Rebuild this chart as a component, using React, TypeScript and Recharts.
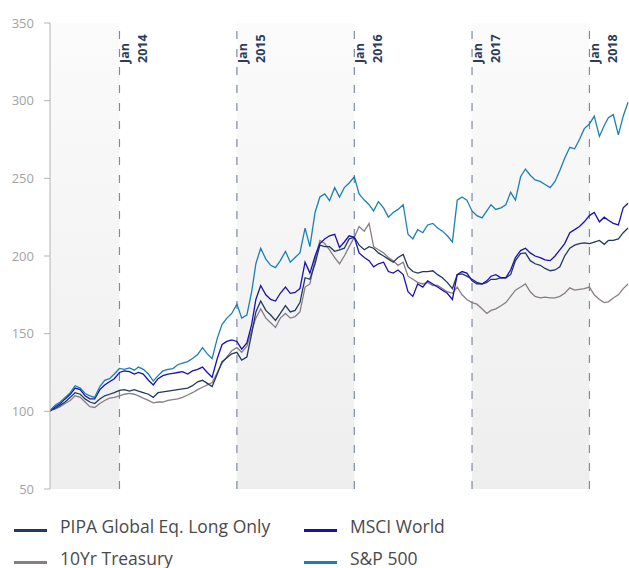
import React from 'react';
import { LineChart, Line, XAxis, YAxis, ReferenceArea, ReferenceLine } from 'recharts';

// Semi-monthly observation dates (1st and 16th), from late May 2013 to May 2018
const dates: number[] = [Date.UTC(2013, 4, 30)];
for (let y = 2013; y <= 2018; y++) {
  for (let m = 0; m < 12; m++) {
    if (y === 2013 && m < 5) continue;
    if (y === 2018 && m > 3) break;
    dates.push(Date.UTC(y, m, 1));
    dates.push(Date.UTC(y, m, 16));
  }
}
dates.push(Date.UTC(2018, 4, 1));

const yearTicks = ['2014', '2015', '2016', '2017', '2018'];
const yTicks = [50, 100, 150, 200, 250, 300, 350];

const sp500 = [
  100.5, 101, 104, 106, 109, 112, 116.5, 115, 111.5, 110, 109, 116, 120, 121, 124,
  127.6, 127, 128, 126.5, 128.5, 127, 124, 119.5, 123, 126, 127, 127.5, 130, 131, 132, 134, 136.5, 141, 137, 134, 147, 156, 160, 163,
  169, 160, 162, 177, 195, 205, 198, 194, 192.5, 197, 203, 196, 199, 202, 218, 206, 228, 238, 240, 235.6, 244, 238, 244, 247,
  251, 240, 236, 233, 229, 235, 231, 225, 228, 230, 233, 214, 211, 217, 215, 220, 221, 218, 216, 213, 209, 236, 238, 236,
  229, 226, 224.5, 229, 233, 230, 231, 233, 241, 236, 251, 256, 252, 249, 248, 246, 244, 248, 255, 263, 270, 269, 275, 282,
  285, 290, 277, 284, 289, 291, 278, 290, 299,
];

const msci = [
  100, 100.5, 103, 105, 108, 111, 115, 114, 110, 108, 108, 114, 117, 119, 121,
  125, 126, 125.5, 124, 125, 124, 120, 117, 121, 123, 124, 124.5, 125, 125.5, 124, 126, 127, 128.5, 125, 122, 134, 143, 145, 146,
  145, 140, 144, 156, 172, 181, 175, 172, 171, 176, 180, 176, 176.5, 179, 196, 189, 200, 208, 211, 213, 214, 205.5, 209, 213,
  212, 202, 199, 197, 193, 195, 196, 190, 189, 191, 188, 177, 174, 182, 180, 184, 182, 180, 178, 176, 172, 188, 190, 189,
  184, 182, 182, 184, 187, 188, 186, 186, 191, 199, 203.5, 205, 202, 200, 199, 197.5, 197, 200, 204, 208, 215, 217, 219, 222,
  226, 228, 222, 225, 223, 221, 220, 231, 234,
];

const pipa = [
  100, 101, 102, 104, 106, 109, 112, 111, 108, 106, 105, 108, 110, 111, 112,
  113.5, 114, 113, 114, 113, 112, 111, 109, 112, 112.5, 113, 113.5, 114, 114.5, 115, 116.5, 119, 120, 118, 116, 124, 132, 134.5, 137,
  138, 133, 135, 150, 164, 171, 165, 162, 158.5, 163, 168, 164, 165, 170, 186, 185, 195, 207, 206, 206, 203, 204, 205, 211,
  212, 207, 204, 206, 205, 202, 200, 198, 196, 199, 201, 193, 190, 189, 190, 190, 190.5, 188, 186, 183, 179, 188, 188.5, 187,
  185, 183, 182, 183, 185, 185, 186, 186, 188, 197, 201.5, 202, 197, 195, 194, 192, 190.5, 191, 193, 200, 205, 207, 208, 208.5,
  208, 209, 210, 207.5, 210, 210, 211, 215, 218,
];

const treasury = [
  100, 100.5, 101.5, 103, 105, 107, 110, 109, 106, 103, 102.5, 105, 107, 108.5, 109,
  110, 111, 111.5, 111, 110, 108.5, 107, 105.5, 106, 106, 107, 107.5, 108, 109, 110.5, 112, 114, 115.5, 117, 118.5, 125, 131, 135, 139,
  141, 138, 142, 152, 160, 166, 160, 157, 154, 160, 163, 160, 161, 164, 180, 182, 198, 210, 208, 204, 199, 195, 200, 206,
  212, 219, 216, 221, 206, 204, 202, 199, 197, 194, 196, 187, 185, 183, 182, 183, 181, 181, 179, 177, 176, 180, 175, 172,
  170, 169, 166, 163, 165, 166, 168, 170, 174, 178, 180, 182, 177, 174, 173, 173.5, 173, 173, 174, 176, 179.5, 178, 178.5, 179,
  180, 175, 172, 170, 170.5, 173, 175, 179, 182,
];

const seriesNames = ['PIPA Global Eq. Long Only', 'MSCI World', '10Yr Treasury', 'S&P 500'];
const seriesKeys = ['pipa', 'msci', 'treasury', 'sp500'];
const seriesColors = ['#1f3a5c', '#1a0fb4', '#877d84', '#1a7fb3'];

const data = dates.map((d, i) => ({
  date: d,
  pipa: pipa[i],
  msci: msci[i],
  treasury: treasury[i],
  sp500: sp500[i],
}));

const X_START = Date.UTC(2013, 4, 30);
const X_END = Date.UTC(2018, 4, 4);

const shadedBands: [number, number][] = [
  [X_START, Date.UTC(2014, 0, 1)],
  [Date.UTC(2015, 0, 1), Date.UTC(2016, 0, 1)],
  [Date.UTC(2017, 0, 1), Date.UTC(2018, 0, 1)],
];

const YearLabel = ({ viewBox, year }: any) => {
  const x = viewBox?.x ?? 0;
  const y = (viewBox?.y ?? 23) + 40;
  const common = {
    fontFamily: '"Open Sans", sans-serif',
    fontWeight: 700,
    fontSize: 12.5,
    fill: '#2a3c5c',
    textAnchor: 'start' as const,
  };
  return (
    <g>
      <text x={x + 10} y={y} transform={`rotate(-90 ${x + 10} ${y})`} {...common}>Jan</text>
      <text x={x + 28} y={y} transform={`rotate(-90 ${x + 28} ${y})`} {...common}>{year}</text>
    </g>
  );
};

const legendPos = [
  { left: 14, top: 0 },
  { left: 304, top: 0 },
  { left: 14, top: 32 },
  { left: 304, top: 32 },
];

export default function App() {
  const drawOrder = [2, 0, 1, 3];
  return (
    <div style={{ position: 'fixed', left: 0, top: 0, width: 629, height: 568, overflow: 'hidden', background: '#fff' }}>
      <LineChart width={629} height={568} data={data} margin={{ top: 23, right: 0, left: 0, bottom: 79 }}>
        <defs>
          <linearGradient id="bandGrad" x1="0" y1="0" x2="0" y2="1">
            <stop offset="0%" stopColor="#fbfbfb" />
            <stop offset="100%" stopColor="#eeeeee" />
          </linearGradient>
        </defs>
        <XAxis dataKey="date" type="number" scale="time" domain={[X_START, X_END]} hide height={0} allowDataOverflow />
        <YAxis
          domain={[50, 350]}
          ticks={yTicks}
          width={50}
          interval={0}
          axisLine={{ stroke: '#b3b3b3' }}
          tickLine={{ stroke: '#b3b3b3' }}
          tickSize={6}
          tickMargin={10}
          tick={{ fill: '#a3a3a3', fontSize: 13, fontFamily: '"Open Sans", sans-serif' }}
        />
        {shadedBands.map(([a, b], i) => (
          <ReferenceArea key={'band' + i} x1={a} x2={b} y1={50} y2={350} fill="url(#bandGrad)" fillOpacity={1} stroke="none" ifOverflow="hidden" />
        ))}
        {yearTicks.map((yr) => (
          <ReferenceLine
            key={'yl' + yr}
            x={Date.UTC(Number(yr), 0, 1)}
            stroke="#7d8ba3"
            strokeWidth={1.2}
            strokeDasharray="8 10"
            label={(p: any) => <YearLabel viewBox={p.viewBox} year={yr} />}
          />
        ))}
        {drawOrder.map((i) => (
          <Line
            key={seriesKeys[i]}
            type="linear"
            dataKey={seriesKeys[i]}
            name={seriesNames[i]}
            stroke={seriesColors[i]}
            strokeWidth={1.3}
            dot={false}
            isAnimationActive={false}
          />
        ))}
      </LineChart>
      <div style={{ position: 'absolute', left: 0, top: 516, width: 629, height: 60 }}>
        {seriesNames.map((n, i) => (
          <div key={n} style={{ position: 'absolute', left: legendPos[i].left, top: legendPos[i].top, width: 280, height: 30 }}>
            <div style={{ position: 'absolute', left: 0, top: 13, width: 33, height: 3, background: seriesColors[i] }} />
            <span
              style={{
                position: 'absolute',
                left: 46,
                top: 0,
                whiteSpace: 'nowrap',
                fontFamily: '"Open Sans", sans-serif',
                fontSize: 17.5,
                lineHeight: '20px',
                color: '#4a4a4a',
              }}
            >
              {n}
            </span>
          </div>
        ))}
      </div>
    </div>
  );
}
